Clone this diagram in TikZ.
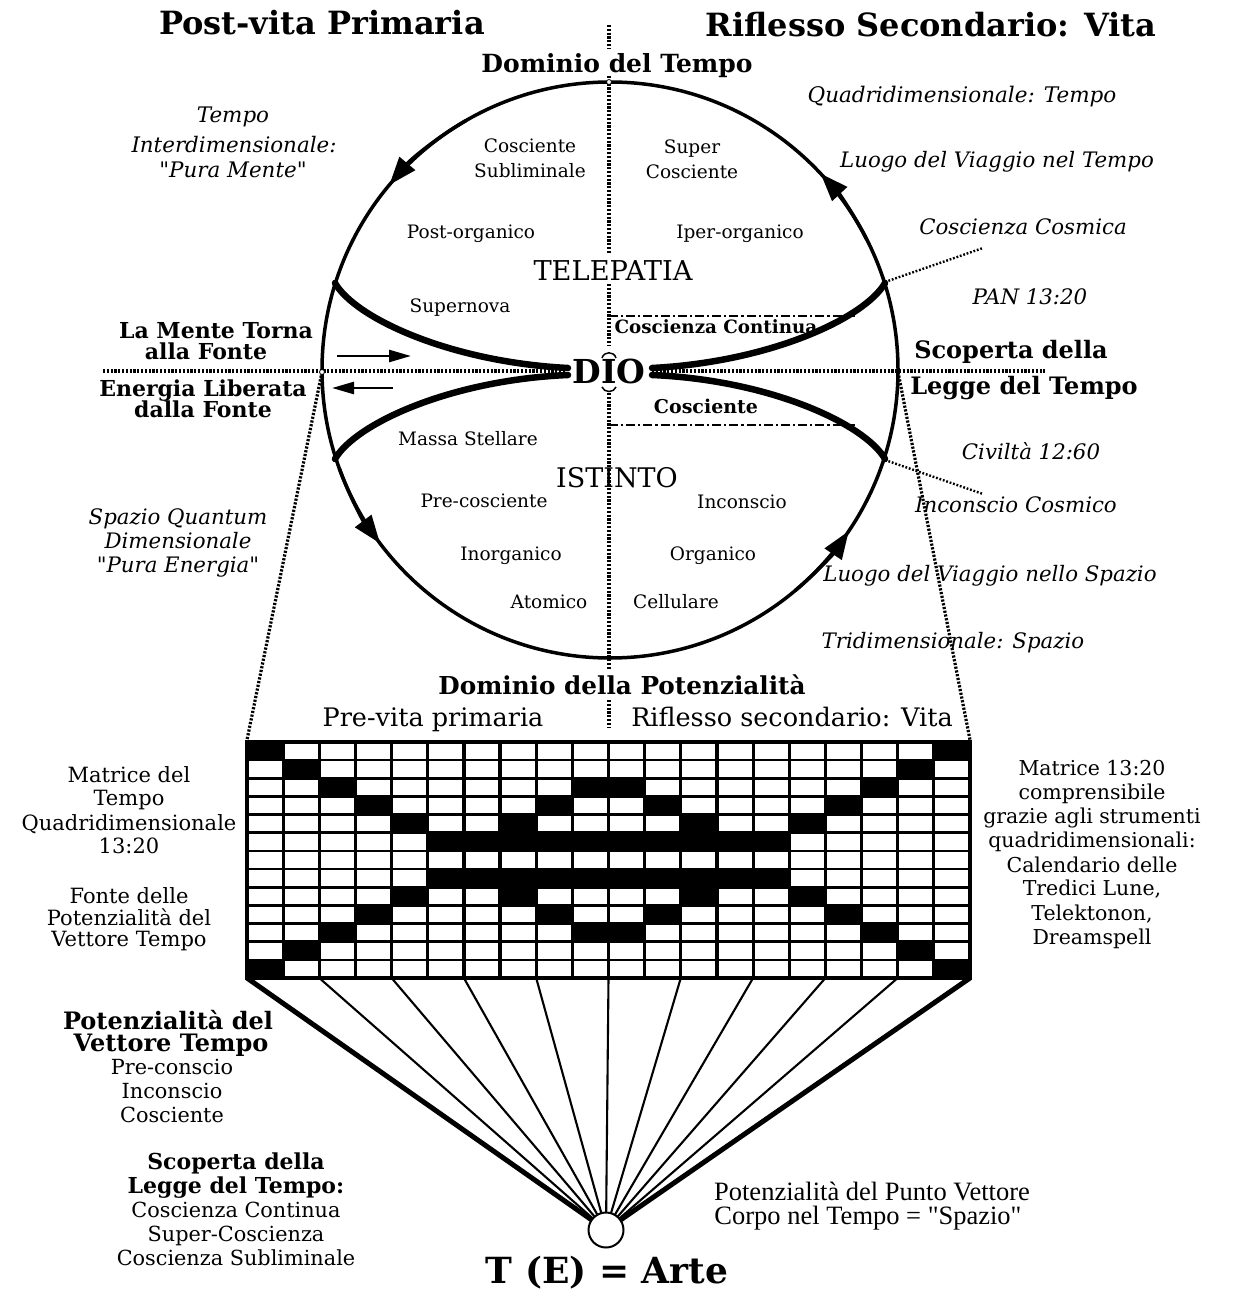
\documentclass[tikz,border=0pt]{standalone}
\usepackage{fontspec}
\setmainfont{DejaVu Serif}
\newfontfamily\dvs{DejaVu Serif}
\newfontfamily\timesfont{Liberation Serif}
\usetikzlibrary{arrows.meta,calc}
\newcommand\dqt{\symbol{34}}
\tikzset{
  reg/.style={font=\dvs\fontsize{#1}{#1}\selectfont, inner sep=1pt, anchor=base},
  bld/.style={font=\dvs\bfseries\fontsize{#1}{#1}\selectfont, inner sep=1pt, anchor=base},
  itl/.style={font=\dvs\itshape\fontsize{#1}{#1}\selectfont, inner sep=1pt, anchor=base},
  tms/.style={font=\timesfont\fontsize{#1}{#1}\selectfont, inner sep=1pt, anchor=base},
  dotline/.style={line width=3.2pt, dash pattern=on 2.2pt off 1.6pt},
  finedots/.style={line width=2.4pt, dash pattern=on 1.8pt off 1.8pt},
  ddline/.style={line width=2pt, dash pattern=on 9pt off 3pt on 2.2pt off 3pt},
  cusp/.style={line width=6.5pt, line cap=round},
  circarrow/.style={line width=3.5pt, -{Triangle[length=28pt,width=20pt]}},
  smallarrow/.style={line width=2.5pt, -{Triangle[length=22pt,width=12pt]}},
  ring/.style={line width=0.8pt, fill=white},
}
\begin{document}
\begin{tikzpicture}[x=1pt,y=-1pt]
\fill[white] (0,0) rectangle (1237,1290);
\useasboundingbox (0,0) rectangle (1237,1290);

\coordinate (C) at (610,370);
% vertical dotted axis
\draw[dotline] (609,25) -- (609,49);
\draw[dotline] (609,76) -- (609,253);
\draw[dotline] (609,284) -- (609,346);
\draw[dotline] (609,393) -- (609,670);
\draw[dotline] (609,700) -- (609,728);
% horizontal dotted axis
\draw[dotline] (103,371) -- (566,371);
\draw[dotline] (652,371) -- (1045,371);
% funnel dotted lines
\draw[dotline] (322,372) -- (247,740);
\draw[dotline] (898,372) -- (970,740);
% leaders
\draw[finedots] (885,282) -- (983,248);
\draw[finedots] (885,460) -- (983,494);
% dash-dot lines
\draw[ddline] (609,316) -- (855,316);
\draw[ddline] (609,425) -- (855,425);

% main circle
\draw[line width=3.5pt] (C) circle[radius=288];
\foreach \a/\b in {-120/-140, -200/-217, -310/-326, -27/-43}
  \draw[circarrow] ($(C)+(\a:288)$) arc[start angle=\a, end angle=\b, radius=288];

% cusp curves
\draw[cusp] (335,283) .. controls (355,318) and (450,362) .. (568,368);
\draw[cusp] (335,459) .. controls (355,424) and (450,380) .. (568,375);
\draw[cusp] (885,283) .. controls (865,318) and (770,362) .. (652,368);
\draw[cusp] (885,459) .. controls (865,424) and (770,380) .. (652,375);

% rings at crossings
\draw[ring] (609,82) circle[radius=2.5];
\draw[ring] (322,372) circle[radius=2.5];

% small arrows
\draw[smallarrow] (337,356) -- (411,356);
\draw[smallarrow] (393,388) -- (332,388);

% DIO
\node[bld=33] (dio) at (609,383) {DIO};
\draw[line width=1.5pt] (602,358) .. controls (604,351) and (614,351) .. (616,358);
\draw[line width=1.5pt] (602,387) .. controls (604,393) and (614,393) .. (616,387);

% titles
\node[bld=32] (t1) at (322,35) {Post-vita Primaria};
\node[bld=32] (t2) at (931,37) {Riflesso Secondario: Vita};
\node[bld=25] (dt) at (617,72) {Dominio del Tempo};

% right side labels
\node[itl=21.5] (q4) at (962,102) {Quadridimensionale: Tempo};
\node[itl=21.3] (lvt) at (997,167) {Luogo del Viaggio nel Tempo};
\node[itl=21.3] (ccos) at (1023,234) {Coscienza Cosmica};
\node[itl=21.3] (pan) at (1030,304) {PAN 13:20};
\node[bld=24] (sc1) at (1011,358) {Scoperta della};
\node[bld=24] (sc2) at (1024,394) {Legge del Tempo};
\node[itl=21.3] (civ) at (1031,459) {Civiltà 12:60};
\node[itl=21.3] (icos) at (1016,512) {Inconscio Cosmico};
\node[itl=21.3] (lvs) at (990,581) {Luogo del Viaggio nello Spazio};
\node[itl=21.3] (tri) at (953,648) {Tridimensionale: Spazio};

% left side labels
\node[itl=21.4] (ti1) at (233,122) {Tempo};
\node[itl=21.4] (ti2) at (234,152) {Interdimensionale:};
\node[itl=21.4] (ti3) at (233,177) {\dqt Pura Mente\dqt};
\node[bld=22] (lm1) at (216,338) {La Mente Torna};
\node[bld=22] (lm2) at (206,359) {alla Fonte};
\node[bld=22] (el1) at (203,396) {Energia Liberata};
\node[bld=22] (el2) at (203,417) {dalla Fonte};
\node[itl=21.3] (sq1) at (178,524) {Spazio Quantum};
\node[itl=21.3] (sq2) at (178,548) {Dimensionale};
\node[itl=21.3] (sq3) at (178,572) {\dqt Pura Energia\dqt};

% inside circle
\node[reg=18.5] (i1) at (530,152) {Cosciente};
\node[reg=18.5] (i2) at (530,177) {Subliminale};
\node[reg=18.5] (i3) at (692,153) {Super};
\node[reg=18.5] (i4) at (692,178) {Cosciente};
\node[reg=18.5] (i5) at (471,238) {Post-organico};
\node[reg=18.5] (i6) at (740,238) {Iper-organico};
\node[reg=27.3] (tel) at (613,280) {TELEPATIA};
\node[reg=18.5] (i7) at (460,312) {Supernova};
\node[bld=18.3] (cc) at (716,333) {Coscienza Continua};
\node[bld=19] (cs) at (706,413) {Cosciente};
\node[reg=18.5] (i8) at (468,445) {Massa Stellare};
\node[reg=27] (ist) at (617,487) {ISTINTO};
\node[reg=18.5] (i9) at (484,507) {Pre-cosciente};
\node[reg=18.5] (i10) at (742,508) {Inconscio};
\node[reg=18.5] (i11) at (511,560) {Inorganico};
\node[reg=18.5] (i12) at (713,560) {Organico};
\node[reg=18.5] (i13) at (549,608) {Atomico};
\node[reg=18.5] (i14) at (676,608) {Cellulare};

% below circle
\node[bld=24.7] (dp) at (622,694) {Dominio della Potenzialità};
\node[reg=25.5] (pv) at (433,726) {Pre-vita primaria};
\node[reg=25.5] (rs) at (792,726) {Riflesso secondario: Vita};

% grid 13 x 20
\fill[black] (247,742) rectangle (970,978);
\foreach \r in {0,...,12} \foreach \c in {0,...,19}
  \fill[white] ({247+\c*36.15+1.6},{742+\r*18.154+1.3}) rectangle ++(32.95,15.55);
\foreach \c/\r in {0/0,19/0,1/1,18/1,2/2,9/2,10/2,17/2,3/3,8/3,11/3,16/3,4/4,7/4,12/4,15/4,
                   4/8,7/8,12/8,15/8,3/9,8/9,11/9,16/9,2/10,9/10,10/10,17/10,1/11,18/11,0/12,19/12}
  \fill[black] ({247+\c*36.15},{742+\r*18.154}) rectangle ++(36.15,18.154);
\fill[black] ({247+5*36.15},{742+5*18.154}) rectangle ++(361.5,18.154);
\fill[black] ({247+5*36.15},{742+7*18.154}) rectangle ++(361.5,18.154);
\node[draw, line width=4.5pt, minimum width=723pt, minimum height=236pt, inner sep=0pt, outer sep=0pt] (grid) at (608.5,860) {};

% grid labels
\foreach \yy/\tt [count=\i] in {782/{Matrice del}, 805/{Tempo}, 830/{Quadridimensionale}, 853/{13:20}, 903/{Fonte delle}, 925/{Potenzialità del}, 946/{Vettore Tempo}}
  \node[reg=21] (gl\i) at (129,\yy) {\tt};
\foreach \yy/\tt [count=\i] in {775/{Matrice 13:20}, 799/{comprensibile}, 823/{grazie agli strumenti}, 847/{quadridimensionali:}, 872/{Calendario delle}, 895/{Tredici Lune,}, 920/{Telektonon,}, 944/{Dreamspell}}
  \node[reg=20.5] (gr\i) at (1092,\yy) {\tt};

% fan
\coordinate (ptc) at (606,1230);
\foreach \k in {1,...,9}
  \draw[line width=2.1pt] ($(grid.south west)!{\k/10}!(grid.south east)$) -- (ptc);
\draw[line width=5pt] (grid.south west) -- (ptc);
\draw[line width=5pt] (grid.south east) -- (ptc);
\node[circle, draw, line width=2pt, fill=white, minimum size=35pt, inner sep=0pt] (pt) at (ptc) {};

% bottom labels
\node[bld=24] (pv1) at (168,1029) {Potenzialità del};
\node[bld=24] (pv2) at (171,1051) {Vettore Tempo};
\node[reg=20.8] (pv3) at (172,1074) {Pre-conscio};
\node[reg=20.8] (pv4) at (172,1098) {Inconscio};
\node[reg=20.8] (pv5) at (172,1122) {Cosciente};
\node[bld=22] (sl1) at (236,1169) {Scoperta della};
\node[bld=22] (sl2) at (236,1193) {Legge del Tempo:};
\node[reg=20.8] (sl3) at (236,1217) {Coscienza Continua};
\node[reg=20.8] (sl4) at (236,1241) {Super-Coscienza};
\node[reg=20.8] (sl5) at (236,1265) {Coscienza Subliminale};
\node[tms=26.5] (pp1) at (872,1200) {Potenzialità del Punto Vettore};
\node[tms=26.5] (pp2) at (868,1224) {Corpo nel Tempo = \dqt Spazio\dqt};
\node[bld=36] (arte) at (607,1283) {T (E) = Arte};
\end{tikzpicture}
\end{document}
